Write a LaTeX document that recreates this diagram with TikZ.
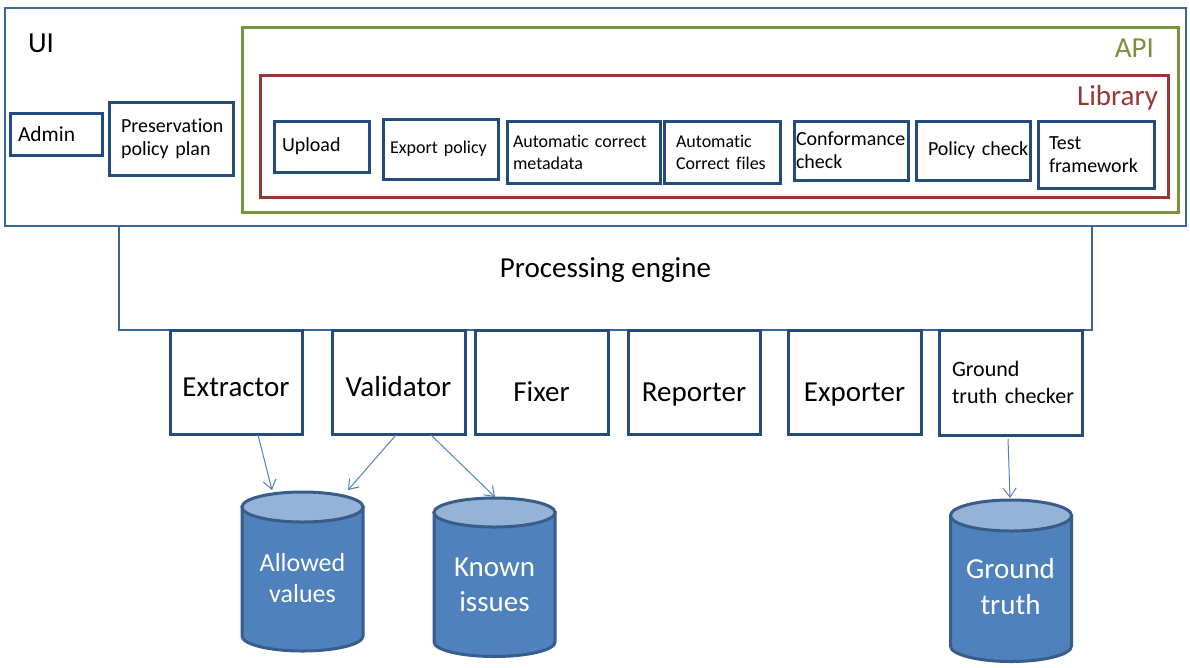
\documentclass[tikz,border=0pt]{standalone}
\usepackage{fontspec}
\setmainfont{Carlito}[Ligatures=NoCommon]
\usetikzlibrary{arrows.meta,calc}
\definecolor{uiblue}{HTML}{3C6598}
\definecolor{boxblue}{HTML}{234B7D}
\definecolor{apigreen}{HTML}{77933C}
\definecolor{libred}{HTML}{953735}
\definecolor{dbfill}{HTML}{4F81BD}
\definecolor{dbtopc}{HTML}{95B3D7}
\definecolor{dbline}{HTML}{385D8A}
\definecolor{arrblue}{HTML}{4F81BD}
\newcommand{\dbdrum}[5]{% name, cx, top centre y, bottom centre y, y radius
  \filldraw[dbbody] (#2-60.5,#3) -- (#2-60.5,#4) arc[start angle=180,end angle=0,x radius=60.5,y radius=#5] -- (#2+60.5,#3) -- cycle;
  \filldraw[dbtopst] (#2,#3) ellipse[x radius=60.5,y radius=#5];
  \node[draw=none,minimum width=121,minimum height={#4-#3+2*#5}] (#1) at (#2,{(#3+#4)/2}) {};
}
\begin{document}
\begin{tikzpicture}[x=1pt,y=-1pt,
  every node/.style={inner sep=0pt,outer sep=0pt},
  frame/.style={draw=uiblue,line width=2.6pt},
  box/.style={draw=boxblue,line width=3pt,align=left},
  bbox/.style={draw=boxblue,line width=3pt,align=center,minimum height=104,text depth=0pt},
  fbig/.style={font=\fontsize{29}{35}\selectfont},
  fadm/.style={font=\fontsize{21.5}{26}\selectfont},
  fmed/.style={font=\fontsize{20}{23}\selectfont},
  fsmall/.style={font=\fontsize{18}{22}\selectfont},
  dbbody/.style={fill=dbfill,draw=dbline,line width=3pt},
  dbtopst/.style={fill=dbtopc,draw=dbline,line width=3pt},
  dbtext/.style={text=white,align=center},
  arr/.style={draw=arrblue,line width=1pt,-{Straight Barb[length=9pt,width=13pt,line width=1pt]}}]
\useasboundingbox (0,0) rectangle (1190,667);

% outer frames
\node[frame,minimum width=1181,minimum height=218] (ui) at (595.5,117) {};
\node[draw=apigreen,line width=3pt,minimum width=936,minimum height=185] (api) at (710,119.5) {};
\node[draw=libred,line width=3pt,minimum width=908,minimum height=122] (lib) at (714,136) {};
\node[fbig,anchor=base west] (uilbl) at (28,52) {UI};
\node[fbig,anchor=base east,text=apigreen] (apilbl) at (1154,57) {API};
\node[fbig,anchor=base east,text=libred] (liblbl) at (1158,105) {Library};

% UI boxes
\node[box,fadm,minimum width=92,minimum height=42,text width=76] (admin) at (56,134) {Admin};
\node[box,fmed,minimum width=124,minimum height=73,text width=100] (ppp) at (171,138.5) {\mbox{Preservation}\\policy plan};

% library boxes
\node[box,fmed,minimum width=95,minimum height=51,text width=79] (upload) at (321.5,146.5) {Upload};
\node[box,fsmall,minimum width=115,minimum height=60,text width=101] (expol) at (440.5,149) {\mbox{Export policy}};
\node[box,fsmall,minimum width=153,minimum height=62,text width=141] (acm) at (583.5,152) {Automatic correct\\metadata};
\node[box,fsmall,minimum width=116,minimum height=62,text width=92] (acf) at (722,152) {Automatic\\\mbox{Correct files}};
\node[box,fmed,minimum width=114,minimum height=59,text width=110] (conf) at (851,150.5) {\mbox{Conformance}\\check};
\node[box,fmed,minimum width=114,minimum height=59,text width=90] (polc) at (973,150.5) {\mbox{Policy check}};
\node[box,fmed,minimum width=116,minimum height=67,text width=94] (testf) at (1096,154.5) {Test\\framework};

% processing engine
\node[frame,fbig,minimum width=973,minimum height=104,text height=20pt,text depth=22pt] (pe) at (605.5,278) {Processing engine};

% modules
\node[bbox,fbig,minimum width=132,text height=28pt] (ext) at (236,382) {Extractor};
\node[bbox,fbig,minimum width=133,text height=28pt] (val) at (398.5,382) {Validator};
\node[bbox,fbig,minimum width=133,text height=38pt] (fix) at (541.5,382) {Fixer};
\node[bbox,fbig,minimum width=132,text height=38pt] (rep) at (694,382) {Reporter};
\node[bbox,fbig,minimum width=133,text height=38pt] (expo) at (854.5,382) {Exporter};
\node[box,font=\fontsize{22}{27}\selectfont,minimum width=143,minimum height=105,text width=117] (gtc) at (1010.5,382.5) {Ground\\\mbox{truth checker}};

% databases
\dbdrum{av}{302.5}{507}{636}{15}
\dbdrum{ki}{494.5}{512.5}{642}{14.5}
\dbdrum{gt}{1011}{515.5}{646}{15.5}
\node[dbtext,font=\fontsize{26}{31}\selectfont] (avt) at (302.5,578) {Allowed\\values};
\node[dbtext,font=\fontsize{29}{35}\selectfont] (kit) at (494.5,585) {Known\\issues};
\node[dbtext,font=\fontsize{29}{36}\selectfont] (gtt) at (1010.5,586.5) {Ground\\truth};

% connectors
\draw[arr] ($(ext.south)+(22,1)$) -- ($(av.north)+(-30.5,-2)$);
\draw[arr] ($(val.south)+(-2.5,1)$) -- ($(av.north)+(45.5,-2)$);
\draw[arr] ($(val.south)+(32.5,1)$) -- ($(ki.north)+(0.5,-1)$);
\draw[arr] ($(gtc.south)+(-2.5,4)$) -- ($(gt.north)+(-1,-2)$);
\end{tikzpicture}
\end{document}
